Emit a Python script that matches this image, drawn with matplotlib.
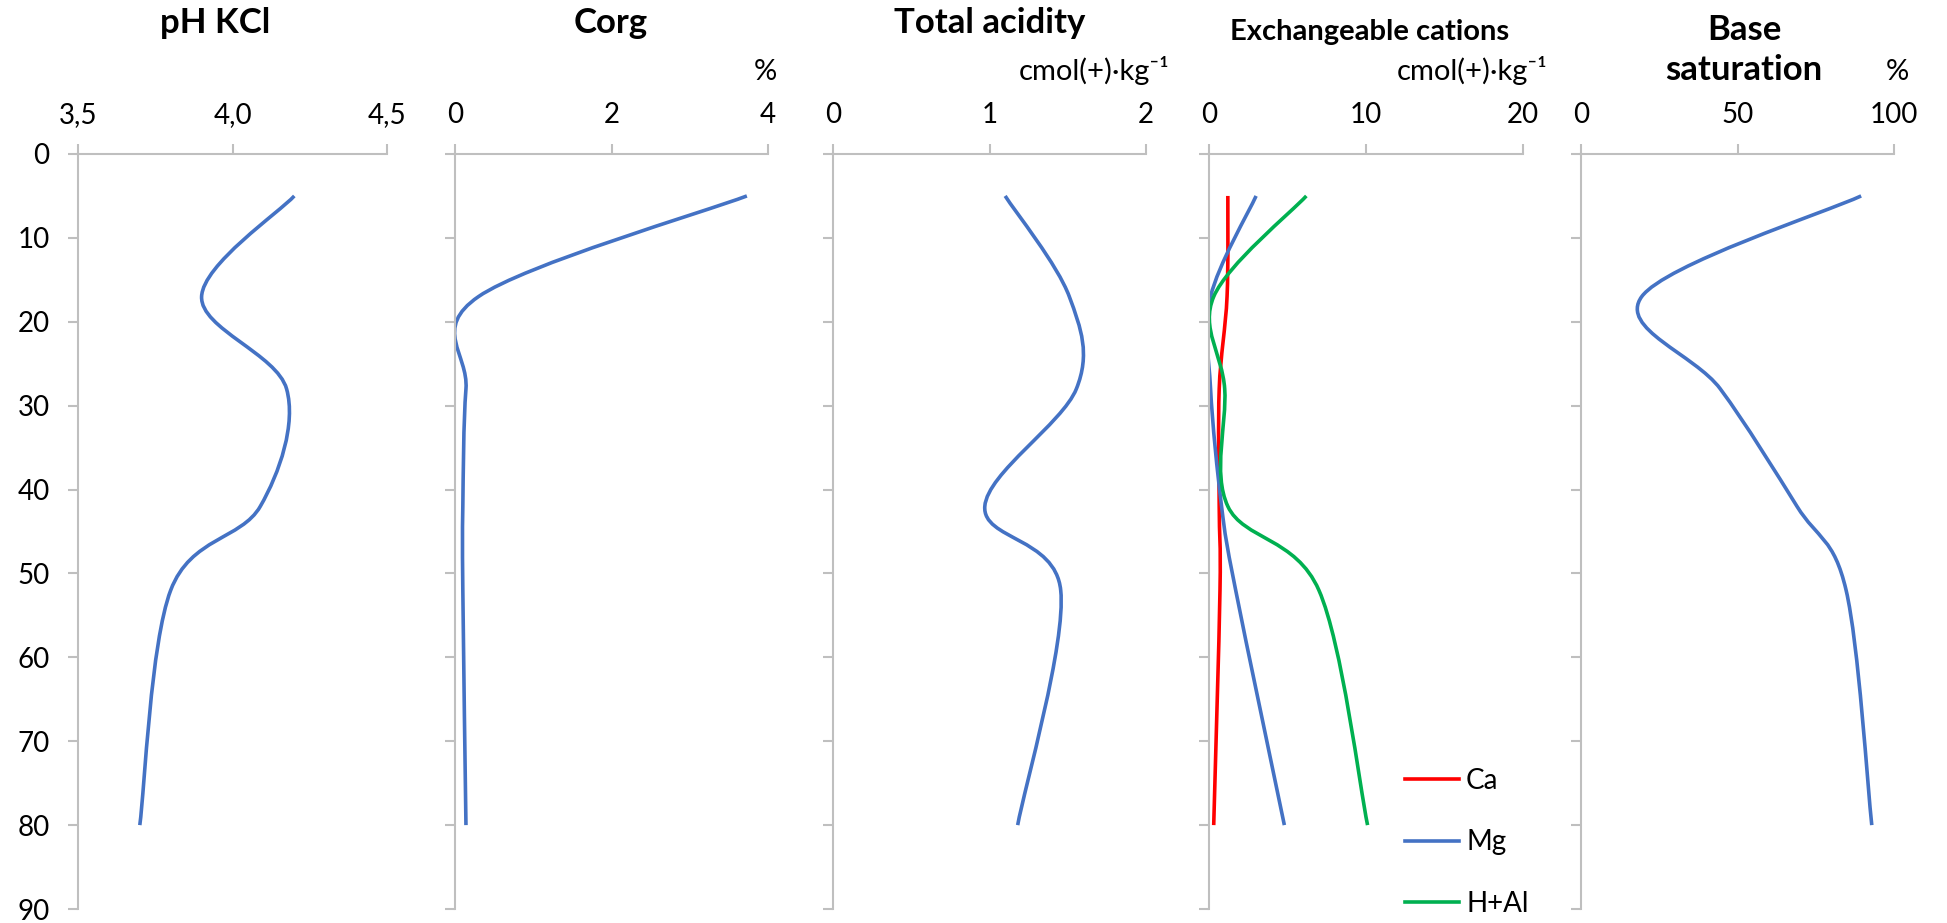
import numpy as np
import matplotlib
matplotlib.use("Agg")
import matplotlib.pyplot as plt
from matplotlib.path import Path
from matplotlib.patches import PathPatch
from matplotlib.lines import Line2D

plt.rcParams['font.family'] = ['Lato', 'DejaVu Sans']

# soil profile data (depth in cm)
depth = [5, 17, 28, 42, 52, 80]
ph_kcl = [4.20, 3.90, 4.175, 4.09, 3.80, 3.70]
corg = [3.73, 0.30, 0.14, 0.10, 0.10, 0.14]
total_acidity = [1.10, 1.51, 1.555, 0.97, 1.455, 1.18]
ca = [1.2, 1.15, 0.65, 0.65, 0.7, 0.3]
mg = [3.0, 0.1, 0.1, 0.8, 1.7, 4.8]
h_al = [6.2, 0.3, 1.0, 1.2, 7.0, 10.1]
base_sat = [89.5, 19.4, 44.5, 69.0, 84.7, 92.9]

titles = ["pH KCl", "Corg", "Total acidity", "Exchangeable cations", "Base\nsaturation"]
units = ["", "%", "cmol(+)·kg⁻¹", "cmol(+)·kg⁻¹", "%"]
xticks = [[3.5, 4.0, 4.5], [0, 2, 4], [0, 1, 2], [0, 10, 20], [0, 50, 100]]
xticklabels = [["3,5", "4,0", "4,5"], ["0", "2", "4"], ["0", "1", "2"],
               ["0", "10", "20"], ["0", "50", "100"]]
yticks = list(range(0, 100, 10))

BLUE = '#4472C4'
RED = '#FF0000'
GREEN = '#00B050'
GRID = '#BFBFBF'


def smooth_path(x, y):
    # Excel-like smoothed line: cubic Bezier through the points
    pts = np.column_stack([x, y]).astype(float)
    ext = np.vstack([pts[0], pts, pts[-1]])
    verts = [pts[0]]
    codes = [Path.MOVETO]
    for i in range(len(pts) - 1):
        p0, p1, p2, p3 = ext[i], ext[i + 1], ext[i + 2], ext[i + 3]
        verts += [p1 + (p2 - p0) / 6, p2 - (p3 - p1) / 6, p2]
        codes += [Path.CURVE4] * 3
    return Path(verts, codes)


def draw(ax, x, color):
    ax.add_patch(PathPatch(smooth_path(x, depth), fill=False, edgecolor=color,
                           lw=2.6, capstyle='butt', joinstyle='round'))


W, H = 1947, 923
fig = plt.figure(figsize=(W / 100, H / 100), dpi=100)
panels = [(78, 387), (455, 768), (833, 1146), (1209, 1523), (1581, 1894)]
top, bot = 154, 909

axes = []
for k, (x0, x1) in enumerate(panels):
    ax = fig.add_axes([x0 / W, 1 - bot / H, (x1 - x0) / W, (bot - top) / H])
    ax.set_xlim(xticks[k][0], xticks[k][-1])
    ax.set_ylim(90, 0)
    ax.xaxis.tick_top()
    ax.set_xticks(xticks[k])
    ax.set_xticklabels(xticklabels[k])
    ax.set_yticks(yticks)
    for s in ['right', 'bottom']:
        ax.spines[s].set_visible(False)
    for s in ['top', 'left']:
        ax.spines[s].set_color(GRID)
        ax.spines[s].set_linewidth(1.5)
    ax.tick_params(axis='both', direction='out', length=7.5, width=1.5,
                   color=GRID, labelsize=20, labelcolor='black')
    ax.tick_params(axis='x', pad=11)
    ax.tick_params(axis='y', pad=13)
    if k > 0:
        ax.tick_params(axis='y', labelleft=False)
    axes.append(ax)

draw(axes[0], ph_kcl, BLUE)
draw(axes[1], corg, BLUE)
draw(axes[2], total_acidity, BLUE)
draw(axes[3], ca, RED)
draw(axes[3], mg, BLUE)
draw(axes[3], h_al, GREEN)
draw(axes[4], base_sat, BLUE)

handles = [Line2D([], [], color=RED, lw=2.6), Line2D([], [], color=BLUE, lw=2.6),
           Line2D([], [], color=GREEN, lw=2.6)]
fig.legend(handles, ["Ca", "Mg", "H+Al"], loc='upper left',
           bbox_to_anchor=(1380 / W, 1 - 743 / H), frameon=False, fontsize=20,
           handlelength=1.95, handletextpad=0.25, labelspacing=1.27)

# titles and units
title_x = [215, 611, 990, 1370, 1744]
for k in range(5):
    fs = 21 if k == 3 else 25
    if k == 4:
        fig.text(title_x[k] / W, 1 - 80 / H, titles[k], ha='center', va='baseline',
                 fontsize=fs, fontweight='bold', linespacing=1.3)
    else:
        yb = 40 if k == 3 else 33
        fig.text(title_x[k] / W, 1 - yb / H, titles[k], ha='center', va='baseline',
                 fontsize=fs, fontweight='bold')

fig.text(765 / W, 1 - 80 / H, units[1], ha='center', va='baseline', fontsize=21)
fig.text(1897 / W, 1 - 80 / H, units[4], ha='center', va='baseline', fontsize=21)
fig.text(1170 / W, 1 - 80 / H, units[2], ha='right', va='baseline', fontsize=21)
fig.text(1547 / W, 1 - 80 / H, units[3], ha='right', va='baseline', fontsize=21)

fig.savefig("out.png", dpi=100, facecolor='white')
